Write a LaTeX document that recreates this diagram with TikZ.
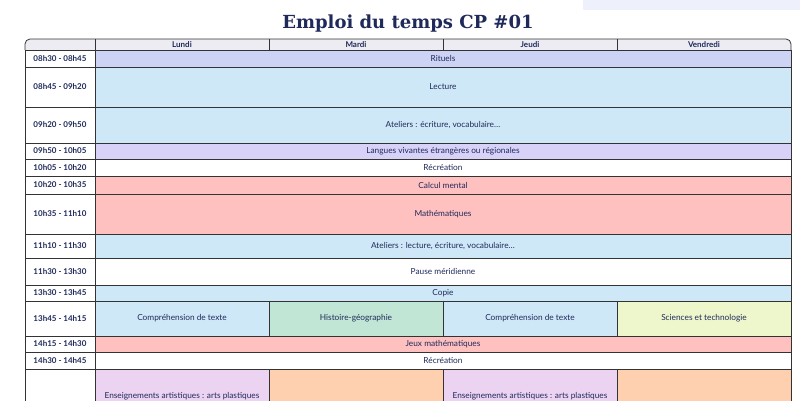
\documentclass[tikz,border=0pt]{standalone}
\usepackage{fontspec}
\setmainfont{Lato}
\newfontfamily\titlefont{DejaVu Serif}
\definecolor{ink}{HTML}{1F2A5A}
\definecolor{hdr}{HTML}{ECECF2}
\definecolor{rit}{HTML}{CCD3F5}
\definecolor{blu}{HTML}{CFE8F7}
\definecolor{lav}{HTML}{D8D2F8}
\definecolor{pnk}{HTML}{FFC0C0}
\definecolor{grn}{HTML}{C2E6D5}
\definecolor{yel}{HTML}{EEF6CC}
\definecolor{vio}{HTML}{ECD3F2}
\definecolor{ora}{HTML}{FFD0B0}
\definecolor{top}{HTML}{EEF1FB}
\begin{document}
\begin{tikzpicture}[x=1pt,y=-1pt,
  cell/.style={draw=black!80,line width=0.8pt},
  txt/.style={font=\fontsize{8.3}{9}\selectfont,text=ink},
  tm/.style={font=\bfseries\fontsize{8}{9}\selectfont,text=ink}]
\useasboundingbox (0,0) rectangle (800,400);
\fill[top] (583,0) rectangle (800,10);
\node[font=\titlefont\bfseries\fontsize{18}{20}\selectfont,text=ink] (title) at (408,24) {Emploi du temps CP \#01};
% header
\draw[cell,fill=hdr,rounded corners=5pt] (25,50) -- (25,39) -- (791,39) -- (791,50);
\draw[cell] (25,50) -- (791,50);
\foreach \x in {95,269,443,617} \draw[cell] (\x,39) -- (\x,50);
\node[tm] (h1) at (182,45) {Lundi};
\node[tm] (h2) at (356,45) {Mardi};
\node[tm] (h3) at (530,45) {Jeudi};
\node[tm] (h4) at (704,45) {Vendredi};
% full rows
\foreach \a/\b/\t/\c/\l [count=\i] in {
50/67/08h30 - 08h45/rit/Rituels,
67/107/08h45 - 09h20/blu/Lecture,
107/143/09h20 - 09h50/blu/{Ateliers : écriture, vocabulaire…},
143/159/09h50 - 10h05/lav/Langues vivantes étrangères ou régionales,
159/176/10h05 - 10h20/white/Récréation,
176/194/10h20 - 10h35/pnk/Calcul mental,
194/234/10h35 - 11h10/pnk/Mathématiques,
234/258/11h10 - 11h30/blu/{Ateliers : lecture, écriture, vocabulaire…},
258/285/11h30 - 13h30/white/Pause méridienne,
285/301/13h30 - 13h45/blu/Copie,
336/352/14h15 - 14h30/pnk/Jeux mathématiques,
352/369/14h30 - 14h45/white/Récréation}{
  \draw[cell,fill=white] (25,\a) rectangle (95,\b);
  \draw[cell,fill=\c] (95,\a) rectangle (791,\b);
  \node[tm] (t\i) at (60,{(\a+\b)/2}) {\t};
  \node[txt] (c\i) at (443,{(\a+\b)/2}) {\l};
}
% split row
\draw[cell,fill=white] (25,301) rectangle (95,336);
\node[tm] (t13) at (60,318.5) {13h45 - 14h15};
\draw[cell,fill=blu] (95,301) rectangle (269,336);
\draw[cell,fill=grn] (269,301) rectangle (443,336);
\draw[cell,fill=blu] (443,301) rectangle (617,336);
\draw[cell,fill=yel] (617,301) rectangle (791,336);
\node[txt] (s1) at (182,318.5) {Compréhension de texte};
\node[txt] (s2) at (356,318.5) {Histoire-géographie};
\node[txt] (s3) at (530,318.5) {Compréhension de texte};
\node[txt] (s4) at (704,318.5) {Sciences et technologie};
% last row (cut)
\draw[cell,fill=white] (25,369) rectangle (95,410);
\draw[cell,fill=vio] (95,369) rectangle (269,410);
\draw[cell,fill=ora] (269,369) rectangle (443,410);
\draw[cell,fill=vio] (443,369) rectangle (617,410);
\draw[cell,fill=ora] (617,369) rectangle (791,410);
\node[txt] (e1) at (182,396) {Enseignements artistiques : arts plastiques};
\node[txt] (e2) at (530,396) {Enseignements artistiques : arts plastiques};
\end{tikzpicture}
\end{document}
